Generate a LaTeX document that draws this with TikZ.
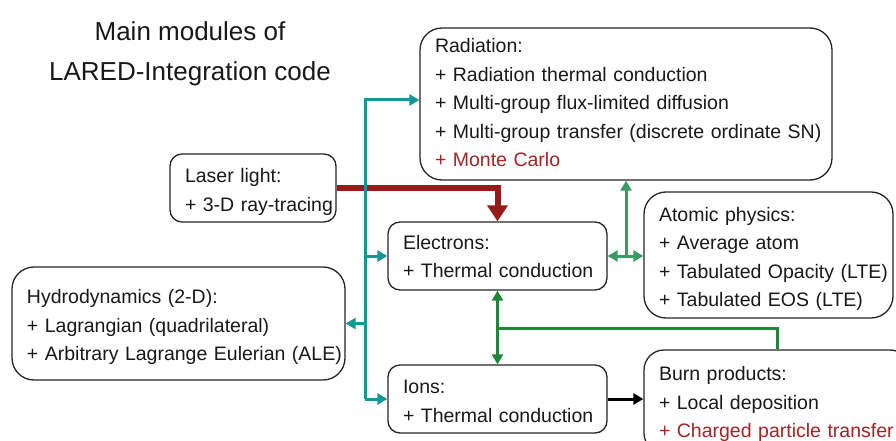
\documentclass[tikz,border=0pt]{standalone}
\usepackage{fontspec}
\setmainfont{Liberation Sans}
\usetikzlibrary{arrows.meta,calc}
\definecolor{tealc}{RGB}{20,150,150}
\definecolor{redc}{RGB}{150,28,28}
\definecolor{redt}{RGB}{165,35,35}
\definecolor{lgreen}{RGB}{55,155,100}
\definecolor{dgreen}{RGB}{30,135,55}
\definecolor{txt}{RGB}{25,25,25}
\newcommand{\lines}[2][0pt]{\begin{tabular}{@{}l@{}}\rule{0pt}{\dimexpr 20pt+#1\relax}#2\end{tabular}}
\tikzset{
  modbox/.style={draw=black!85, line width=1.3pt, rounded corners=#1, align=left,
    inner xsep=15pt, inner ysep=0pt, text=txt,
    font=\fontsize{19.5}{28.5}\selectfont},
  modbox/.default=20pt,
  tconn/.style={draw=tealc, line width=3pt, -{Triangle[length=10pt,width=11pt]}},
  gconn/.style={line width=3pt, {Triangle[length=10pt,width=11pt]}-{Triangle[length=10pt,width=11pt]}},
}
\begin{document}
\begin{tikzpicture}[x=1pt,y=-1pt]
\useasboundingbox (0,0) rectangle (896,441);
\clip (0,0) rectangle (896,441);
\fill[white] (0,0) rectangle (896,441);
\node[align=center, text=txt, font=\fontsize{26}{40}\selectfont] (title) at (190,54) {Main modules of\\LARED-Integration code};
\node[modbox=22pt, minimum width=412pt, minimum height=152pt, text width=382pt] (rad) at (626,104)
 {\lines{Radiation:\\+ Radiation thermal conduction\\+ Multi-group flux-limited diffusion\\+ Multi-group transfer (discrete ordinate SN)\\\textcolor{redt}{+ Monte Carlo}}};
\node[modbox=12pt, minimum width=166pt, minimum height=68pt, text width=136pt] (laser) at (253,188)
 {\lines[7pt]{Laser light:\\+ 3-D ray-tracing}};
\node[modbox=12pt, minimum width=219pt, minimum height=68pt, text width=189pt] (elec) at (497.5,256)
 {\lines[4pt]{Electrons:\\+ Thermal conduction}};
\node[modbox=22pt, minimum width=249pt, minimum height=126pt, text width=219pt] (atom) at (768.5,255)
 {\lines[7pt]{Atomic physics:\\+ Average atom\\+ Tabulated Opacity (LTE)\\+ Tabulated EOS (LTE)}};
\node[modbox=22pt, minimum width=333pt, minimum height=113pt, text width=303pt] (hydro) at (178.5,323.5)
 {\lines[6pt]{Hydrodynamics (2-D):\\+ Lagrangian (quadrilateral)\\+ Arbitrary Lagrange Eulerian (ALE)}};
\node[modbox=12pt, minimum width=219pt, minimum height=68pt, text width=189pt] (ions) at (497.5,399)
 {\lines[7pt]{Ions:\\+ Thermal conduction}};
\node[modbox=20pt, minimum width=266pt, minimum height=103pt, text width=236pt] (burn) at (777,401.5)
 {\lines[4pt]{Burn products:\\+ Local deposition\\\textcolor{redt}{+ Charged particle transfer}}};
% laser -> electrons
\draw[redc, line width=6pt, -{Triangle[length=16pt,width=20pt]}] (laser.east) -- (laser.east -| elec.north) -- (elec.north);
% teal trunk
\coordinate (tt) at (365,100);
\coordinate (tb) at (365,399);
\draw[tconn] (tb) -- (tt) -- (tt -| rad.west);
\draw[tconn] (tb) -- (ions.west);
\draw[tconn] (elec.west -| tt) -- (elec.west);
\draw[tconn] (hydro.east -| tt) -- (hydro.east);
% light green
\draw[gconn, draw=lgreen, fill=lgreen] (elec.east) -- (atom.west |- elec.east);
\draw[lgreen, line width=3pt, -{Triangle[length=10pt,width=11pt]}] (elec.east -| rad.south) -- (rad.south);
% dark green
\draw[gconn, draw=dgreen] (elec.south) -- (ions.north);
\coordinate (gm) at ($(elec.south)!0.52!(ions.north)$);
\draw[dgreen, line width=3pt] (gm) -- (gm -| burn.north) -- (burn.north);
% ions -> burn
\draw[black, line width=3pt, -{Triangle[length=10pt,width=11pt]}] (ions.east) -- (burn.west |- ions.east);
\end{tikzpicture}
\end{document}
